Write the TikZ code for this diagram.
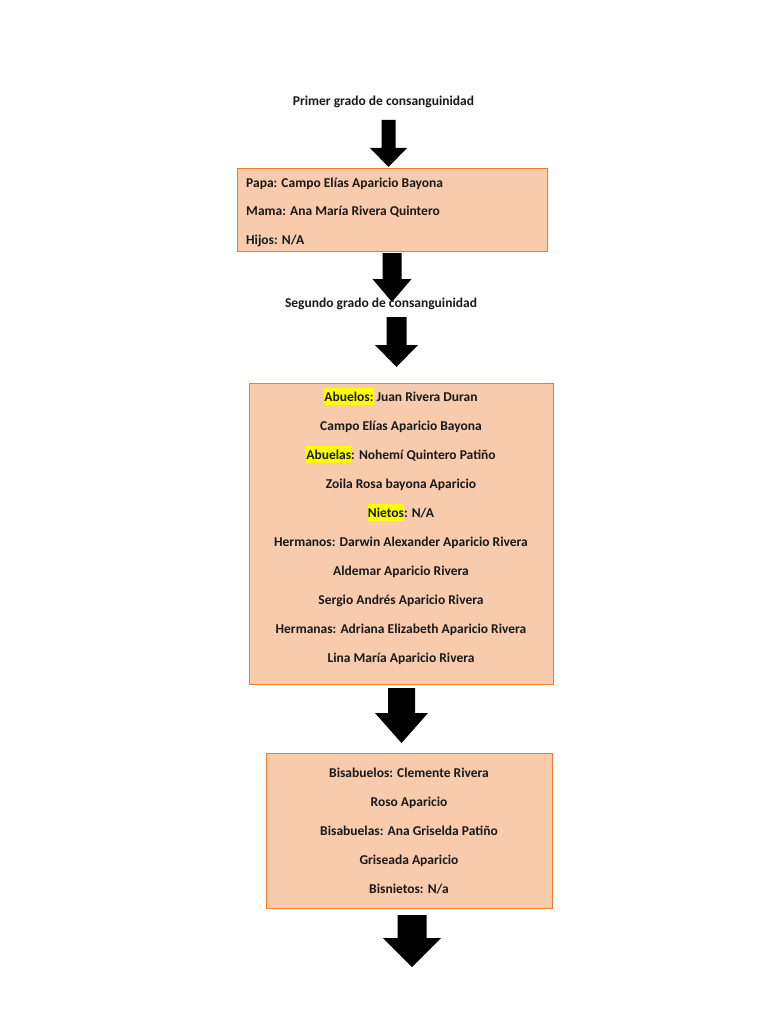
\documentclass[tikz,border=0pt]{standalone}
\usepackage{fontspec}
\setmainfont{Carlito}
\definecolor{boxfill}{HTML}{F8CBAD}
\definecolor{boxline}{HTML}{ED7D31}
\definecolor{hly}{HTML}{FFFF00}
\newcommand\hl[1]{{\setlength\fboxsep{0pt}\colorbox{hly}{\rule[-3.5pt]{0pt}{17pt}#1}}}
\newcommand\blockarr[7]{%
  \coordinate (#1) at (#2,#3);
  \fill[black] ({#2-#6/2},#3) -- ({#2+#6/2},#3) -- ({#2+#6/2},#4) -- ({#2+#7/2},#4)
     -- (#2,#5) -- ({#2-#7/2},#4) -- ({#2-#6/2},#4) -- cycle;}
\tikzset{
  panel/.style={draw=boxline, fill=boxfill, line width=1pt, inner sep=0pt},
  txt/.style={font=\bfseries\fontsize{13.5}{15}\selectfont, inner sep=0pt, anchor=base, text=black!90},
}
\begin{document}
\begin{tikzpicture}[x=1pt,y=-1pt]
\useasboundingbox[fill=white] (0,0) rectangle (768,1024);

\node[txt] (t1) at (383.5,105.5) {Primer grado de consanguinidad};
\blockarr{a1}{388.5}{120}{148}{167}{14}{37}

\node[panel, minimum width=310pt, minimum height=82pt] (b1) at (392,210) {};
\node[txt, anchor=base west] (b1l1) at (246,187.5) {Papa: Campo Elías Aparicio Bayona};
\node[txt, anchor=base west] (b1l2) at (246,215.5) {Mama: Ana María Rivera Quintero};
\node[txt, anchor=base west] (b1l3) at (246,244.5) {Hijos: N/A};

\blockarr{a2}{392}{253}{279}{302}{19}{39}
\node[txt] (t2) at (381,307.5) {Segundo grado de consanguinidad};
\blockarr{a3}{396.5}{317}{345}{367}{20}{43}

\node[panel, minimum width=304pt, minimum height=301pt] (b2) at (401,533.5) {};
\node[txt] (b2l1) at (401,401.5) {\hl{Abuelos:} Juan Rivera Duran};
\node[txt] (b2l2) at (401,430.5) {Campo Elías Aparicio Bayona};
\node[txt] (b2l3) at (401,459.5) {\hl{Abuelas}: Nohemí Quintero Patiño};
\node[txt] (b2l4) at (401,488.5) {Zoila Rosa bayona Aparicio};
\node[txt] (b2l5) at (401,517.5) {\hl{Nietos}: N/A};
\node[txt] (b2l6) at (401,546.5) {Hermanos: Darwin Alexander Aparicio Rivera};
\node[txt] (b2l7) at (401,575.5) {Aldemar Aparicio Rivera};
\node[txt] (b2l8) at (401,604.5) {Sergio Andrés Aparicio Rivera};
\node[txt] (b2l9) at (401,633.5) {Hermanas: Adriana Elizabeth Aparicio Rivera};
\node[txt] (b2l10) at (401,662.5) {Lina María Aparicio Rivera};

\blockarr{a4}{401.5}{688}{713}{743}{27}{53}

\node[panel, minimum width=286pt, minimum height=155pt] (b3) at (409,830.5) {};
\node[txt] (b3l1) at (409,777.5) {Bisabuelos: Clemente Rivera};
\node[txt] (b3l2) at (409,806.5) {Roso Aparicio};
\node[txt] (b3l3) at (409,835.5) {Bisabuelas: Ana Griselda Patiño};
\node[txt] (b3l4) at (409,864.5) {Griseada Aparicio};
\node[txt] (b3l5) at (409,893.5) {Bisnietos: N/a};

\blockarr{a5}{412}{915}{938}{967}{29}{58}
\end{tikzpicture}
\end{document}
